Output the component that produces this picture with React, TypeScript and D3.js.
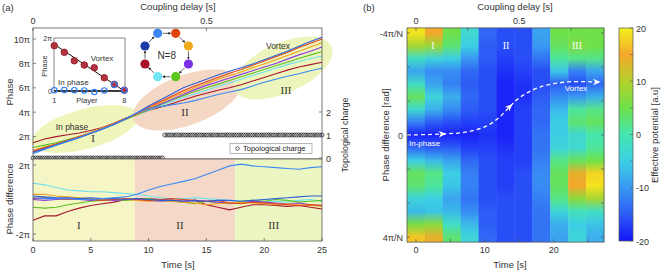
import * as d3 from 'd3';
import React from 'react';

// ---------- data ----------
const times = [0, 1, 2, 3, 4, 5, 6, 7, 8, 9, 10, 11, 12, 13, 14, 15, 16, 17, 18, 19, 20, 21, 22, 23, 24, 25];

const playerColors = ['#a8162e', '#6fe0f0', '#5cc226', '#8a3ce0', '#f0a31e', '#e2431a', '#2b5fd9', '#3a8af5'];

// phase of each player (units of pi), sampled each second
const phaseDarkRed = [1.5, 1.8, 2.0, 2.15, 2.3, 2.5, 2.75, 3.1, 3.5, 3.85, 4.15, 4.4, 4.7, 5.0, 5.3, 5.55, 5.8, 6.0, 6.25, 6.55, 6.85, 7.15, 7.45, 7.7, 7.9, 8.1];
const phaseCyan = [0.8, 1.1, 1.4, 1.7, 2.0, 2.3, 2.6, 3.0, 3.4, 3.8, 4.15, 4.5, 4.85, 5.2, 5.5, 5.8, 6.1, 6.4, 6.7, 7.0, 7.3, 7.6, 7.9, 8.15, 8.4, 8.6];
const phaseGreen = [1.1, 1.3, 1.5, 1.75, 2.0, 2.3, 2.65, 3.0, 3.4, 3.8, 4.2, 4.6, 5.0, 5.35, 5.7, 6.0, 6.3, 6.6, 6.9, 7.2, 7.5, 7.8, 8.1, 8.4, 8.7, 8.95];
const phasePurple = [0.75, 1.05, 1.35, 1.65, 1.95, 2.3, 2.65, 3.05, 3.45, 3.85, 4.25, 4.65, 5.05, 5.45, 5.85, 6.2, 6.5, 6.8, 7.1, 7.4, 7.7, 8.0, 8.35, 8.7, 9.0, 9.35];
const phaseOrange = [0.9, 1.15, 1.4, 1.7, 2.0, 2.35, 2.7, 3.05, 3.45, 3.85, 4.3, 4.75, 5.2, 5.6, 6.0, 6.35, 6.7, 7.0, 7.3, 7.65, 7.95, 8.3, 8.65, 9.0, 9.35, 9.7];
const phaseRed = [0.8, 1.1, 1.4, 1.7, 2.0, 2.3, 2.65, 3.05, 3.45, 3.9, 4.4, 4.85, 5.3, 5.75, 6.15, 6.5, 6.85, 7.2, 7.5, 7.85, 8.2, 8.55, 8.9, 9.3, 9.65, 10.0];
const phaseDarkBlue = [0.7, 1.0, 1.3, 1.6, 1.9, 2.25, 2.6, 3.0, 3.45, 3.95, 4.5, 5.0, 5.5, 6.0, 6.35, 6.7, 7.05, 7.35, 7.65, 7.95, 8.3, 8.65, 9.0, 9.4, 9.8, 10.15];
const phaseLightBlue = [0.6, 0.95, 1.3, 1.65, 1.95, 2.3, 2.65, 3.0, 3.45, 3.95, 4.3, 4.45, 4.6, 4.75, 4.95, 5.2, 5.45, 5.65, 5.85, 6.15, 6.45, 6.7, 6.95, 7.15, 7.4, 7.6];
const phaseSeries = [phaseDarkRed, phaseCyan, phaseGreen, phasePurple, phaseOrange, phaseRed, phaseDarkBlue, phaseLightBlue];

// phase difference between neighbours (units of pi)
const diffDarkRed = [-1.2, -0.95, -0.95, -0.7, -0.5, -0.35, -0.25, -0.15, 0.0, 0.05, 0.05, 0.0, -0.05, -0.1, -0.05, -0.3, -0.45, -0.6, -0.45, -0.3, -0.3, -0.35, -0.4, -0.35, -0.45, -0.55];
const diffCyan = [0.95, 0.85, 0.7, 0.55, 0.5, 0.45, 0.45, 0.4, 0.35, 0.3, 0.2, 0.1, 0.05, 0.05, 0.1, 0.05, 0.0, -0.05, -0.1, -0.05, -0.15, -0.1, -0.15, -0.05, 0.0, -0.1];
const diffGreen = [-0.45, -0.5, -0.45, -0.3, -0.2, -0.1, -0.05, 0.0, -0.05, 0.0, 0.05, -0.05, -0.1, -0.15, -0.25, -0.1, -0.2, -0.25, -0.1, -0.05, -0.1, 0.0, -0.05, -0.15, -0.1, -0.05];
const diffPurple = [0.0, -0.05, 0.0, 0.05, 0.0, -0.05, 0.0, -0.05, 0.0, 0.0, -0.05, -0.1, -0.05, -0.1, -0.05, -0.1, -0.15, -0.2, -0.2, -0.1, -0.15, -0.2, -0.25, -0.2, -0.3, -0.35];
const diffOrange = [0.3, 0.3, 0.2, 0.15, 0.1, 0.05, 0.0, 0.05, 0.0, -0.05, -0.1, -0.05, -0.1, -0.15, -0.2, -0.3, -0.25, -0.2, -0.15, -0.2, -0.25, -0.3, -0.25, -0.3, -0.35, -0.4];
const diffRed = [0.05, 0.1, 0.05, 0.0, 0.05, 0.0, -0.05, 0.0, 0.05, 0.0, -0.05, 0.0, 0.05, 0.0, -0.05, -0.1, -0.05, -0.2, -0.25, -0.15, -0.2, -0.25, -0.3, -0.35, -0.3, -0.35];
const diffDarkBlue = [0.2, 0.15, 0.1, 0.1, 0.05, 0.1, 0.05, 0.05, 0.0, 0.05, 0.0, -0.05, -0.05, -0.1, -0.05, -0.1, -0.05, -0.05, -0.1, -0.05, 0.0, 0.05, 0.1, 0.15, 0.2, 0.2];
const diffLightBlue = [0.1, 0.05, 0.05, 0.05, 0.0, 0.0, 0.05, 0.1, 0.15, 0.3, 0.55, 0.75, 0.9, 1.05, 1.2, 1.45, 1.7, 1.95, 2.05, 1.95, 1.9, 1.85, 1.8, 1.75, 1.85, 1.9];
const diffSeries = [diffDarkRed, diffCyan, diffGreen, diffPurple, diffOrange, diffRed, diffDarkBlue, diffLightBlue];

// topological charge
const chargeSampleStep = 0.2;
const chargeSwitchTime = 11.4;
const chargeLevels = [0, 1];

// regimes
const regimeBounds = [0, 8.8, 17.5, 25];
const regimeNames = ['I', 'II', 'III'];
const regimeColors = ['#f6f5c6', '#f4d9c8', '#ecf6c2'];

// inset
const players = [1, 2, 3, 4, 5, 6, 7, 8];
const insetVortex = [1.71, 1.46, 1.14, 0.98, 0.88, 0.5, 0.25, 0.03];
const insetInPhase = [0.03, 0.04, 0.03, 0.02, -0.04, 0.02, 0.24, 0.03];
const insetVortexFit = [1.76, 0];

// ring
const ringColors = ['#3a86f2', '#e0440e', '#f0a818', '#7c2ee6', '#5cc61c', '#6fe6f6', '#a8102a', '#1e3aa8'];

// heat map (panel b)
const heatTimes = [0, 2.6, 5.2, 7.8, 10.4, 13, 15.6, 18.2, 20.8, 23.4, 26];
const heatRows = [-1, -0.875, -0.75, -0.625, -0.5, -0.375, -0.25, -0.125, 0, 0.125, 0.25, 0.375, 0.5, 0.625, 0.75, 0.875, 1];
const heatColumns = [
  [19, 9, -2, -9, -2, 4, -3, -12, -19, -14, -5, 4, 3, -4, -7, 6, 17],
  [15, 8, -4, -11, -9, -4, -8, -15, -19, -15, -7, 2, 1, -5, -6, 7, 14],
  [5, 3, -5, -11, -12, -8, -11, -16, -19, -15, -9, -5, -6, -9, -7, -2, 3],
  [-3, -5, -10, -14, -15, -14, -15, -17, -19, -17, -14, -12, -12, -13, -11, -7, -4],
  [-14, -15, -15, -16, -16, -16, -16, -17, -18, -17, -16, -16, -16, -16, -15, -15, -14],
  [-16, -16, -17, -18, -19, -19, -19, -19, -19, -18, -17, -17, -17, -16, -16, -16, -16],
  [-16, -16, -16, -17, -18, -18, -17, -17, -17, -17, -17, -16, -16, -16, -16, -16, -16],
  [-9, -10, -13, -16, -16, -15, -14, -14, -13, -13, -12, -11, -11, -12, -13, -13, -13],
  [5, 4, 1, -6, -15, -11, -7, -5, -5, -4, 2, 4, 4, 2, -4, -8, -9],
  [5, 6, 2, -12, -16, -10, 1, 3, -3, -3, 4, 14, 15, 7, -1, -5, -4],
  [5, 5, 2, -9, -14, -8, 2, 4, 0, 1, 5, 18, 19, 9, -2, -6, -8],
];
const potentialStops = [-20, -15, -10, -5, 0, 5, 10, 15, 20];
const potentialColors = ['#1515f8', '#2d5cf6', '#3a98f2', '#3ccfe4', '#45e6b0', '#6ee04a', '#b4d22c', '#f4a82c', '#f2f21c'];

// dashed guide in panel b (time, phase diff in 4pi/N)
const guideT = [-1.3, 3.9, 7.4, 10.3, 12.2, 13.65, 15.1, 18.0, 21.9, 26.3];
const guideU = [0, -0.01, -0.03, -0.09, -0.18, -0.28, -0.37, -0.47, -0.52, -0.52];

// ---------- layout ----------
const font = '"Liberation Sans", Arial, Helvetica, sans-serif';
const serif = '"Liberation Serif", "Times New Roman", serif';
const axisColor = '#555';
const textColor = '#333';

const xA = d3.scaleLinear().domain([0, 25]).range([33, 322]);
const delayA = d3.scaleLinear().domain([0, 25 / 30]).range([33, 322]);
const yPhase = d3.scaleLinear().domain([0, 10]).range([161, 39]);
const yCharge = d3.scaleLinear().domain([0, 2]).range([158, 112]);
const yDiff = d3.scaleLinear().domain([-2, 2]).range([234, 165]);

const xIn = d3.scaleLinear().domain([1, 8]).range([54.3, 124.3]);
const yIn = d3.scaleLinear().domain([0, 2]).range([91, 38]);

const xB = d3.scaleLinear().domain([-1.3, 27.3]).range([407, 604]);
const delayB = d3.scaleLinear().domain([-1.3 / 30, 27.3 / 30]).range([407, 604]);
const yB = d3.scaleLinear().domain([-1, 1]).range([33, 237]);
const cmap = d3.scaleLinear<string>().domain(potentialStops).range(potentialColors).interpolate(d3.interpolateRgb);
const yCbar = d3.scaleLinear().domain([-20, 20]).range([241, 28]);

const piLabel = (v: number) => (v === 0 ? '0' : `${v}π`);

export default function App() {
  const phaseLine = d3.line<number>().x((_, i) => xA(times[i])).y((d) => yPhase(d));
  const diffLine = d3.line<number>().x((_, i) => xA(times[i])).y((d) => yDiff(d));
  const guide = d3.line<number>().x((_, i) => xB(guideT[i])).y((_, i) => yB(guideU[i])).curve(d3.curveCatmullRom);

  const chargeTimes = d3.range(0, 25 + 1e-6, chargeSampleStep);
  const ringC = { x: 166.7, y: 55 };
  const ringNodes = ringColors.map((c, i) => {
    const a = ((-112.5 + i * 45) * Math.PI) / 180;
    return { c, x: ringC.x + 23.5 * Math.cos(a), y: ringC.y + 23.5 * Math.sin(a) };
  });

  const arrowAt = (i: number) => {
    const a = Math.max(0, i - 1);
    const b = Math.min(guideT.length - 1, i + 1);
    const ang = (Math.atan2(yB(guideU[b]) - yB(guideU[a]), xB(guideT[b]) - xB(guideT[a])) * 180) / Math.PI;
    return `translate(${xB(guideT[i])},${yB(guideU[i])}) rotate(${ang})`;
  };

  const heatW = xB(heatTimes[1]) - xB(heatTimes[0]);
  const cbarStops = [...potentialStops].reverse();

  return (
    <svg width={664} height={273} style={{ position: 'absolute', left: 0, top: 0, background: '#fff' }} fontFamily={font}>
      <defs>
        {heatColumns.map((col, i) => (
          <linearGradient key={i} id={`hc${i}`} gradientUnits="userSpaceOnUse" x1={0} x2={0} y1={yB(-1)} y2={yB(1)}>
            {col.map((v, j) => (
              <stop key={j} offset={(yB(heatRows[j]) - yB(-1)) / (yB(1) - yB(-1))} stopColor={cmap(v)} />
            ))}
          </linearGradient>
        ))}
        <linearGradient id="cbar" gradientUnits="userSpaceOnUse" x1={0} x2={0} y1={yCbar(20)} y2={yCbar(-20)}>
          {cbarStops.map((v, j) => (
            <stop key={j} offset={(yCbar(v) - yCbar(20)) / (yCbar(-20) - yCbar(20))} stopColor={cmap(v)} />
          ))}
        </linearGradient>
        <marker id="ah" viewBox="0 0 6 6" refX="5" refY="3" markerWidth="4" markerHeight="4" orient="auto">
          <path d="M0,0 L6,3 L0,6 Z" fill="#222" />
        </marker>
      </defs>

      {/* ================= panel (a) ================= */}
      <text x={2} y={11} fontSize={9.5} fill={textColor}>(a)</text>
      <text x={178} y={10} fontSize={9.5} fill={textColor} textAnchor="middle">Coupling delay [s]</text>
      {[0, 0.5].map((d) => (
        <g key={d}>
          <text x={delayA(d)} y={24} fontSize={9} fill={textColor} textAnchor="middle">{d}</text>
          <line x1={delayA(d)} x2={delayA(d)} y1={28} y2={31} stroke={axisColor} strokeWidth={0.7} />
        </g>
      ))}

      {/* regime ellipses */}
      <ellipse cx={85} cy={129} rx={55} ry={20} transform="rotate(-15 85 129)" fill="#eef4b4" opacity={0.9} />
      <ellipse cx={187} cy={100} rx={57} ry={25} transform="rotate(-20 187 100)" fill="#f4d4be" opacity={0.9} />
      <ellipse cx={283} cy={68} rx={53} ry={25} transform="rotate(-24 283 68)" fill="#ebf4b6" opacity={0.9} />
      <text x={72} y={130} fontSize={8.5} fill={textColor} textAnchor="middle">In phase</text>
      <text x={278} y={49} fontSize={8.5} fill={textColor} textAnchor="middle">Vortex</text>
      <text x={93} y={142} fontSize={11} fontFamily={serif} fill={textColor} textAnchor="middle">I</text>
      <text x={185} y={116} fontSize={11} fontFamily={serif} fill={textColor} textAnchor="middle">II</text>
      <text x={286} y={94} fontSize={11} fontFamily={serif} fill={textColor} textAnchor="middle">III</text>

      {/* phase lines */}
      {phaseSeries.map((s, i) => (
        <path key={i} d={phaseLine(s) || ''} fill="none" stroke={playerColors[i]} strokeWidth={1.1} />
      ))}

      {/* topological charge */}
      {chargeTimes.map((t, i) => {
        const q = t < chargeSwitchTime ? chargeLevels[0] : chargeLevels[1];
        return <circle key={i} cx={xA(t)} cy={yCharge(q)} r={2} fill="none" stroke="#222" strokeWidth={0.75} />;
      })}

      {/* top axes frame */}
      <rect x={33} y={28} width={289} height={131} fill="none" stroke={axisColor} strokeWidth={0.8} />
      {[2, 4, 6, 8, 10].map((v) => (
        <g key={v}>
          <line x1={33} x2={36} y1={yPhase(v)} y2={yPhase(v)} stroke={axisColor} strokeWidth={0.7} />
          <text x={30} y={yPhase(v) + 3.5} fontSize={9} fill={textColor} textAnchor="end">{piLabel(v)}</text>
        </g>
      ))}
      {[0, 1, 2].map((v) => (
        <g key={v}>
          <line x1={319} x2={322} y1={yCharge(v)} y2={yCharge(v)} stroke={axisColor} strokeWidth={0.7} />
          <text x={326} y={yCharge(v) + 3.5} fontSize={9} fill={textColor}>{v}</text>
        </g>
      ))}
      <text transform="translate(13,92) rotate(-90)" fontSize={9.5} fill={textColor} textAnchor="middle">Phase</text>
      <text transform="translate(348,135) rotate(-90)" fontSize={9} fill={textColor} textAnchor="middle">Topological charge</text>

      {/* legend */}
      <rect x={230} y={143.5} width={82} height={10} fill="#fff" stroke="#888" strokeWidth={0.6} />
      <circle cx={237.5} cy={148.5} r={1.8} fill="none" stroke="#222" strokeWidth={0.7} />
      <text x={243} y={151.3} fontSize={7.5} fill="#222">Topological charge</text>

      {/* inset */}
      <rect x={54} y={38} width={71} height={53} fill="#fff" stroke={axisColor} strokeWidth={0.7} />
      <line x1={xIn(1)} x2={xIn(8)} y1={yIn(insetVortexFit[0])} y2={yIn(insetVortexFit[1])} stroke="#111" strokeWidth={1} />
      <line x1={xIn(1)} x2={xIn(8)} y1={yIn(0)} y2={yIn(0)} stroke="#111" strokeWidth={1.6} />
      {players.map((p, i) => (
        <circle key={`v${p}`} cx={xIn(p)} cy={yIn(insetVortex[i])} r={3.3} fill="#b3323f" stroke="#8a1a28" strokeWidth={0.8} />
      ))}
      {players.map((p, i) => (
        <circle key={`b${p}`} cx={xIn(p)} cy={yIn(insetInPhase[i])} r={2.7} fill="none" stroke="#2f7ff0" strokeWidth={1.2} />
      ))}
      <text x={52} y={41} fontSize={7} fill={textColor} textAnchor="end">2π</text>
      <text x={52} y={94} fontSize={7} fill={textColor} textAnchor="end">0</text>
      <text x={xIn(1)} y={103} fontSize={7.5} fill={textColor} textAnchor="middle">1</text>
      <text x={xIn(8)} y={103} fontSize={7.5} fill={textColor} textAnchor="middle">8</text>
      <text x={87} y={103} fontSize={7.5} fill={textColor} textAnchor="middle">Player</text>
      <text transform="translate(47,66) rotate(-90)" fontSize={7.5} fill={textColor} textAnchor="middle">Phase</text>
      <text x={102} y={61} fontSize={8} fill={textColor} textAnchor="middle">Vortex</text>
      <text x={58} y={85} fontSize={8} fill={textColor}>In phase</text>

      {/* ring */}
      {ringNodes.map((n, i) => {
        const m = ringNodes[(i + 1) % ringNodes.length];
        const x1 = n.x + (m.x - n.x) * 0.3, y1 = n.y + (m.y - n.y) * 0.3;
        const x2 = n.x + (m.x - n.x) * 0.72, y2 = n.y + (m.y - n.y) * 0.72;
        return <line key={`a${i}`} x1={x1} y1={y1} x2={x2} y2={y2} stroke="#222" strokeWidth={0.7} markerEnd="url(#ah)" />;
      })}
      {ringNodes.map((n, i) => (
        <circle key={`n${i}`} cx={n.x} cy={n.y} r={4.6} fill={n.c} />
      ))}
      <text x={ringC.x} y={ringC.y + 4} fontSize={10} fill={textColor} textAnchor="middle">N=8</text>

      {/* bottom plot */}
      {regimeNames.map((r, i) => (
        <g key={r}>
          <rect x={xA(regimeBounds[i])} y={159} width={xA(regimeBounds[i + 1]) - xA(regimeBounds[i])} height={82} fill={regimeColors[i]} />
          <text x={xA((regimeBounds[i] + regimeBounds[i + 1]) / 2) - 5} y={229} fontSize={11} fontFamily={serif} fill={textColor} textAnchor="middle">{r}</text>
        </g>
      ))}
      {diffSeries.map((s, i) => (
        <path key={i} d={diffLine(s) || ''} fill="none" stroke={playerColors[i]} strokeWidth={1.1} />
      ))}
      <rect x={33} y={159} width={289} height={82} fill="none" stroke={axisColor} strokeWidth={0.8} />
      {[-2, 2].map((v) => (
        <g key={v}>
          <line x1={33} x2={36} y1={yDiff(v)} y2={yDiff(v)} stroke={axisColor} strokeWidth={0.7} />
          <text x={30} y={yDiff(v) + 3.5} fontSize={9} fill={textColor} textAnchor="end">{piLabel(v)}</text>
        </g>
      ))}
      {[0, 5, 10, 15, 20, 25].map((t) => (
        <g key={t}>
          <line x1={xA(t)} x2={xA(t)} y1={241} y2={238} stroke={axisColor} strokeWidth={0.7} />
          <text x={xA(t)} y={253} fontSize={9} fill={textColor} textAnchor="middle">{t}</text>
        </g>
      ))}
      <text x={178} y={268} fontSize={9.5} fill={textColor} textAnchor="middle">Time [s]</text>
      <text transform="translate(13,199) rotate(-90)" fontSize={9.5} fill={textColor} textAnchor="middle">Phase difference</text>

      {/* ================= panel (b) ================= */}
      <text x={363} y={11} fontSize={9.5} fill={textColor}>(b)</text>
      <text x={515} y={10} fontSize={9.5} fill={textColor} textAnchor="middle">Coupling delay [s]</text>
      {heatTimes.map((t, i) => (
        <rect key={i} x={xB(t) - heatW / 2} y={yB(-1.05)} width={heatW + 0.4} height={yB(1.05) - yB(-1.05)} fill={`url(#hc${i})`} />
      ))}
      <path d={guide(guideT) || ''} fill="none" stroke="#fff" strokeWidth={1.3} strokeDasharray="4,3" />
      {[1, 5, guideT.length - 1].map((i) => (
        <path key={i} transform={arrowAt(i)} d="M-4,-3.2 L3.5,0 L-4,3.2 L-2,0 Z" fill="#fff" />
      ))}
      <text x={409} y={146} fontSize={8} fill="#fff">In-phase</text>
      <text x={576} y={91} fontSize={8} fill="#fff" textAnchor="middle">Vortex</text>
      <text x={433} y={49} fontSize={10} fontFamily={serif} fill="#fff" textAnchor="middle">I</text>
      <text x={506} y={49} fontSize={10} fontFamily={serif} fill="#fff" textAnchor="middle">II</text>
      <text x={577} y={49} fontSize={10} fontFamily={serif} fill="#fff" textAnchor="middle">III</text>

      <rect x={407} y={yB(-1.05)} width={197} height={yB(1.05) - yB(-1.05)} fill="none" stroke={axisColor} strokeWidth={0.8} />
      {[-1, -2 / 3, -1 / 3, 0, 1 / 3, 2 / 3, 1].map((u, i) => (
        <g key={i}>
          <line x1={407} x2={410} y1={yB(u)} y2={yB(u)} stroke={axisColor} strokeWidth={0.7} />
          <line x1={601} x2={604} y1={yB(u)} y2={yB(u)} stroke={axisColor} strokeWidth={0.7} />
        </g>
      ))}
      {[
        { u: -1, s: '-4π/N' },
        { u: 0, s: '0' },
        { u: 1, s: '4π/N' },
      ].map((d) => (
        <text key={d.s} x={403} y={yB(d.u) + 3.5} fontSize={9} fill={textColor} textAnchor="end">{d.s}</text>
      ))}
      {[0, 5, 10, 15, 20, 25].map((t) => (
        <line key={t} x1={xB(t)} x2={xB(t)} y1={yB(1.05)} y2={yB(1.05) - 3} stroke={axisColor} strokeWidth={0.7} />
      ))}
      {[0, 10, 20].map((t) => (
        <text key={t} x={xB(t)} y={253} fontSize={9} fill={textColor} textAnchor="middle">{t}</text>
      ))}
      {[0, 0.25, 0.5, 0.75].map((d) => (
        <line key={d} x1={delayB(d)} x2={delayB(d)} y1={yB(-1.05)} y2={yB(-1.05) + 3} stroke={axisColor} strokeWidth={0.7} />
      ))}
      {[0, 0.5].map((d) => (
        <text key={d} x={delayB(d)} y={24} fontSize={9} fill={textColor} textAnchor="middle">{d}</text>
      ))}
      <text x={510} y={268} fontSize={9.5} fill={textColor} textAnchor="middle">Time [s]</text>
      <text transform="translate(389,135) rotate(-90)" fontSize={9.5} fill={textColor} textAnchor="middle">Phase difference [rad]</text>

      {/* colour bar */}
      <rect x={619} y={yCbar(20)} width={14} height={yCbar(-20) - yCbar(20)} fill="url(#cbar)" stroke={axisColor} strokeWidth={0.7} />
      {[-20, -15, -10, -5, 0, 5, 10, 15, 20].map((v) => (
        <line key={v} x1={630} x2={633} y1={yCbar(v)} y2={yCbar(v)} stroke={axisColor} strokeWidth={0.6} />
      ))}
      {[-20, -10, 0, 10, 20].map((v) => (
        <text key={v} x={636} y={yCbar(v) + 3.5} fontSize={9} fill={textColor}>{v}</text>
      ))}
      <text transform="translate(658,135) rotate(-90)" fontSize={9.5} fill={textColor} textAnchor="middle">Effective potential [a.u]</text>
    </svg>
  );
}
